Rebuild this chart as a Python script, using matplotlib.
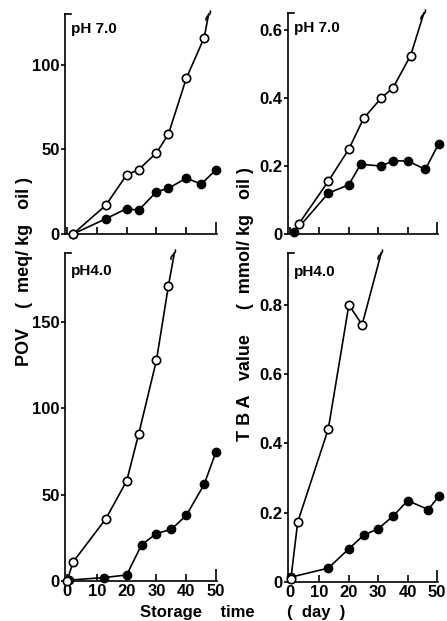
import matplotlib.pyplot as plt

plt.rcParams['font.family'] = ['Liberation Sans', 'DejaVu Sans']
plt.rcParams['font.weight'] = 'bold'

days_ticks = [0, 10, 20, 30, 40, 50]

# pH 7.0, POV
pov7_open_x = [2, 13, 20, 24, 30, 34, 40, 46]
pov7_open_y = [0, 17, 35, 38, 48, 59, 92, 116]
pov7_closed_x = [2, 13, 20, 24, 30, 34, 40, 45, 50]
pov7_closed_y = [0, 9, 15, 14, 25, 27, 33, 29.5, 38]
pov7_break = (47.5, 130)

# pH 7.0, TBA
tba7_open_x = [3, 13, 20, 25, 31, 35, 41]
tba7_open_y = [0.03, 0.155, 0.25, 0.34, 0.40, 0.43, 0.525]
tba7_closed_x = [1.5, 13, 20, 24, 31, 35, 40, 46, 50.5]
tba7_closed_y = [0.005, 0.12, 0.145, 0.205, 0.20, 0.215, 0.215, 0.19, 0.265]
tba7_break = (45.5, 0.65)

# pH 4.0, POV
pov4_open_x = [0, 2, 13, 20, 24, 30, 34]
pov4_open_y = [0, 11, 36, 58, 85, 128, 171]
pov4_closed_x = [0.5, 12.5, 20, 25, 30, 35, 40, 46, 50]
pov4_closed_y = [0.5, 2, 3.5, 21, 27.5, 30, 38, 56, 75]
pov4_break = (36, 190)

# pH 4.0, TBA
tba4_open_x = [0.3, 2.6, 13, 20, 24.5]
tba4_open_y = [0.01, 0.173, 0.442, 0.80, 0.743]
tba4_closed_x = [0.3, 13, 20, 25, 30, 35, 40, 47, 50.5]
tba4_closed_y = [0.014, 0.04, 0.096, 0.135, 0.154, 0.19, 0.235, 0.209, 0.247]
tba4_break = (31, 0.95)

W, H = 447, 621
fig = plt.figure(figsize=(W / 100, H / 100), dpi=100)


def make_ax(l, r, t, b):
    return fig.add_axes([l / W, 1 - b / H, (r - l) / W, (b - t) / H])


panels = [
    (make_ax(65, 217, 14, 234), pov7_open_x, pov7_open_y, pov7_closed_x, pov7_closed_y,
     pov7_break, 130, [0, 50, 100], ['0', '50', '100'], 'pH 7.0', False),
    (make_ax(288, 438, 13, 234), tba7_open_x, tba7_open_y, tba7_closed_x, tba7_closed_y,
     tba7_break, 0.65, [0, 0.2, 0.4, 0.6], ['0', '0.2', '0.4', '0.6'], 'pH 7.0', False),
    (make_ax(65, 217, 253, 581), pov4_open_x, pov4_open_y, pov4_closed_x, pov4_closed_y,
     pov4_break, 190, [0, 50, 100, 150], ['0', '50', '100', '150'], 'pH4.0', True),
    (make_ax(288, 438, 253, 582), tba4_open_x, tba4_open_y, tba4_closed_x, tba4_closed_y,
     tba4_break, 0.95, [0, 0.2, 0.4, 0.6, 0.8], ['0', '0.2', '0.4', '0.6', '0.8'], 'pH4.0', True),
]

for ax, ox, oy, cx, cy, brk, ytop, yt, ytl, title, bottom in panels:
    ax.plot(cx, cy, '-o', color='black', lw=1.2, ms=6, mfc='black', mec='black', zorder=3,
            clip_on=False)
    ax.plot(ox + [brk[0]], oy + [brk[1]], '-', color='black', lw=1.2, zorder=3, clip_on=False)
    ax.plot(ox, oy, 'o', ms=6, mfc='white', mec='black', mew=1.2, zorder=4, clip_on=False)
    ax.text(brk[0] + 0.6, brk[1] - 0.005 * ytop, '~', fontsize=17, rotation=65,
            ha='center', va='center', fontweight='normal')
    ax.set_xlim(-0.7, 50.3)
    ax.set_ylim(0, ytop)
    for s in ['top', 'right']:
        ax.spines[s].set_visible(False)
    for s in ['left', 'bottom']:
        ax.spines[s].set_linewidth(1.2)
    ax.plot([0, 0.04], [1, 1], color='black', lw=1.2, transform=ax.transAxes, clip_on=False)
    ax.set_xticks(days_ticks)
    ax.set_yticks(yt)
    ax.set_yticklabels(ytl)
    ax.tick_params(axis='x', direction='in', length=5, width=1.2, pad=2, labelsize=12)
    ax.tick_params(axis='y', direction='out', length=3, width=1.2, pad=1, labelsize=12)
    ax.xaxis.get_major_ticks()[-1].tick1line.set_markersize(9)
    if bottom:
        ax.set_xticklabels([str(d) for d in days_ticks], fontweight='bold')
    else:
        ax.set_xticklabels([])
    for lab in ax.get_yticklabels():
        lab.set_fontweight('bold')
    ax.text(0.04, 0.965, title, transform=ax.transAxes, fontsize=11, ha='left', va='top',
            fontweight='bold')

fig.text(25 / W, 1 - 272 / H, 'POV    (  meq/ kg   oil )', rotation=90, ha='center',
         va='center', fontsize=13, fontweight='bold')
fig.text(246 / W, 1 - 304 / H, 'T B A   value     (  mmol/ kg   oil )', rotation=90,
         ha='center', va='center', fontsize=13, fontweight='bold')
fig.text(243 / W, 1 - 612 / H, 'Storage    time       (  day  )', ha='center', va='center',
         fontsize=12, fontweight='bold')

fig.savefig('out.png', dpi=100)
